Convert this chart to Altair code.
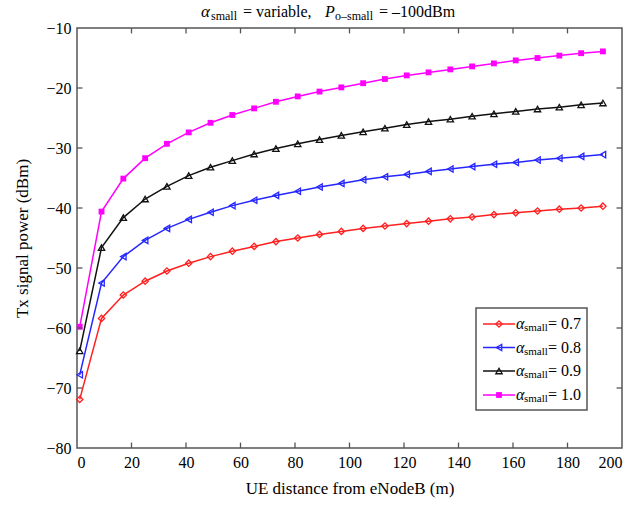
import altair as alt
import pandas as pd

# Distance of the UE from the eNodeB (m)
DIST = [1, 9, 17, 25, 33, 41, 49, 57, 65, 73, 81, 89, 97,
        105, 113, 121, 129, 137, 145, 153, 161, 169, 177, 185, 193]

# Tx signal power (dBm) for each alpha_small value
P_07 = [-71.9, -58.4, -54.5, -52.2, -50.5, -49.2, -48.1, -47.2, -46.4, -45.6, -45.0, -44.4, -43.9,
        -43.4, -43.0, -42.6, -42.2, -41.8, -41.5, -41.1, -40.8, -40.5, -40.2, -40.0, -39.7]
P_08 = [-67.8, -52.5, -48.1, -45.4, -43.4, -41.9, -40.7, -39.6, -38.7, -37.9, -37.2, -36.5, -35.9,
        -35.3, -34.8, -34.4, -33.9, -33.5, -33.1, -32.7, -32.4, -32.0, -31.7, -31.4, -31.1]
P_09 = [-63.8, -46.6, -41.6, -38.5, -36.4, -34.6, -33.2, -32.1, -31.0, -30.1, -29.3, -28.6, -27.9,
        -27.3, -26.7, -26.1, -25.6, -25.2, -24.7, -24.3, -23.9, -23.5, -23.2, -22.8, -22.5]
P_10 = [-59.8, -40.6, -35.1, -31.7, -29.3, -27.4, -25.8, -24.5, -23.4, -22.3, -21.4, -20.6, -19.9,
        -19.2, -18.5, -17.9, -17.4, -16.9, -16.4, -15.9, -15.4, -15.0, -14.6, -14.2, -13.9]

SERIES = ["0.7", "0.8", "0.9", "1.0"]
COLORS = ["#ff2020", "#2626ff", "#111111", "#ff00ff"]
SHAPES = ["diamond", "triangle-left", "triangle-up", "square"]

X_TICKS = [20, 40, 60, 80, 100, 120, 140, 160, 180]
Y_TICKS = [-20, -30, -40, -50, -60, -70]

SERIF = "Times New Roman, Liberation Serif, serif"
FRAME = "#555555"
W, H = 545, 420

rows = []
for name, vals in zip(SERIES, [P_07, P_08, P_09, P_10]):
    for d, p in zip(DIST, vals):
        rows.append({"d": d, "p": p, "alpha": name})
df = pd.DataFrame(rows)

x_scale = alt.Scale(domain=[0, 200], nice=False, zero=False)
y_scale = alt.Scale(domain=[-80, -10], nice=False, zero=False)

x_axis = alt.Axis(values=list(range(0, 201, 20)), ticks=False, grid=False, domain=False,
                  labelFont=SERIF, labelFontSize=16, labelColor="black", labelPadding=6,
                  title="UE distance from eNodeB (m)", titleFont=SERIF, titleFontSize=17,
                  titleFontWeight="normal", titleColor="black", titlePadding=10)
y_axis = alt.Axis(values=list(range(-80, -9, 10)), ticks=False, grid=False, domain=False,
                  labelFont=SERIF, labelFontSize=16, labelColor="black", labelPadding=6,
                  title="Tx signal power (dBm)", titleFont=SERIF, titleFontSize=17,
                  titleFontWeight="normal", titleColor="black", titlePadding=14)


def X(field="d"):
    return alt.X(f"{field}:Q", scale=x_scale, axis=x_axis)


def Y(field="p"):
    return alt.Y(f"{field}:Q", scale=y_scale, axis=y_axis)


color_enc = alt.Color("alpha:N", scale=alt.Scale(domain=SERIES, range=COLORS), legend=None)

base = alt.Chart(df)
lines = base.mark_line(strokeWidth=1.5).encode(x=X(), y=Y(), color=color_enc)
open_pts = base.transform_filter(alt.datum.alpha != "1.0").mark_point(
    filled=False, size=40, strokeWidth=1.3, opacity=1
).encode(
    x=X(), y=Y(), color=color_enc,
    shape=alt.Shape("alpha:N", scale=alt.Scale(domain=SERIES, range=SHAPES), legend=None),
)
sq_pts = base.transform_filter(alt.datum.alpha == "1.0").mark_point(
    filled=True, shape="square", size=34, opacity=1, color="#ff00ff"
).encode(x=X(), y=Y())

# Inward tick marks on all four sides of the frame
tick_style = dict(color=FRAME, strokeWidth=1.3)
bottom = pd.DataFrame({"d": X_TICKS, "p": -80.0, "p2": -79.1})
top = pd.DataFrame({"d": X_TICKS, "p": -10.0, "p2": -10.9})
left = pd.DataFrame({"p": Y_TICKS, "d": 0.0, "d2": 2.0})
right = pd.DataFrame({"p": Y_TICKS, "d": 200.0, "d2": 198.0})
ticks = [
    alt.Chart(bottom).mark_rule(**tick_style).encode(x=X(), y=Y(), y2="p2:Q"),
    alt.Chart(top).mark_rule(**tick_style).encode(x=X(), y=Y(), y2="p2:Q"),
    alt.Chart(left).mark_rule(**tick_style).encode(y=Y(), x=X(), x2="d2:Q"),
    alt.Chart(right).mark_rule(**tick_style).encode(y=Y(), x=X(), x2="d2:Q"),
]

one = pd.DataFrame({"k": [0]})


def txt(s, px, py, size=16, italic=False):
    """Text placed in plot-area pixel coordinates."""
    kw = dict(text=s, font=SERIF, fontSize=size, align="left", baseline="middle", color="black")
    if italic:
        kw["fontStyle"] = "italic"
    return alt.Chart(one).mark_text(**kw).encode(x=alt.value(px), y=alt.value(py))


# Title with subscripts
title_parts = [
    txt("α", 124, -16, 17, italic=True),
    txt("small", 134, -12, 12),
    txt("= variable,", 166, -16, 16),
    txt("P", 248, -16, 16, italic=True),
    txt("o–small", 258, -12, 12),
    txt("= –100dBm", 302, -16, 16),
]

# Legend box
LX0, LX1, LY0, LY1 = 399, 510, 280, 382
ROWS_Y = [296, 319.5, 343, 367]
legend = [alt.Chart(one).mark_rect(fill="white", stroke=FRAME, strokeWidth=1.5).encode(
    x=alt.value(LX0), x2=alt.value(LX1), y=alt.value(LY0), y2=alt.value(LY1))]
for name, col, shp, ry in zip(SERIES, COLORS, SHAPES, ROWS_Y):
    legend.append(alt.Chart(one).mark_rule(color=col, strokeWidth=1.5).encode(
        x=alt.value(406), x2=alt.value(438), y=alt.value(ry)))
    if shp == "square":
        legend.append(alt.Chart(one).mark_point(shape="square", filled=True, size=34, color=col,
                                                opacity=1).encode(x=alt.value(422), y=alt.value(ry)))
    else:
        legend.append(alt.Chart(one).mark_point(shape=shp, filled=False, size=40, strokeWidth=1.3,
                                                color=col, opacity=1).encode(
            x=alt.value(422), y=alt.value(ry)))
    legend.append(txt("α", 439, ry, 16, italic=True))
    legend.append(txt("small", 447, ry + 4, 11))
    legend.append(txt("= " + name, 471, ry, 16))

chart = alt.layer(lines, open_pts, sq_pts, *ticks, *title_parts, *legend).properties(
    width=W, height=H,
    autosize=alt.AutoSizeParams(type="none"),
    padding={"left": 77, "top": 28, "right": 13, "bottom": 59},
    background="white",
).configure_view(stroke=FRAME, strokeWidth=1.5)

chart.save("out.html", embed_options={"renderer": "svg", "actions": False})
